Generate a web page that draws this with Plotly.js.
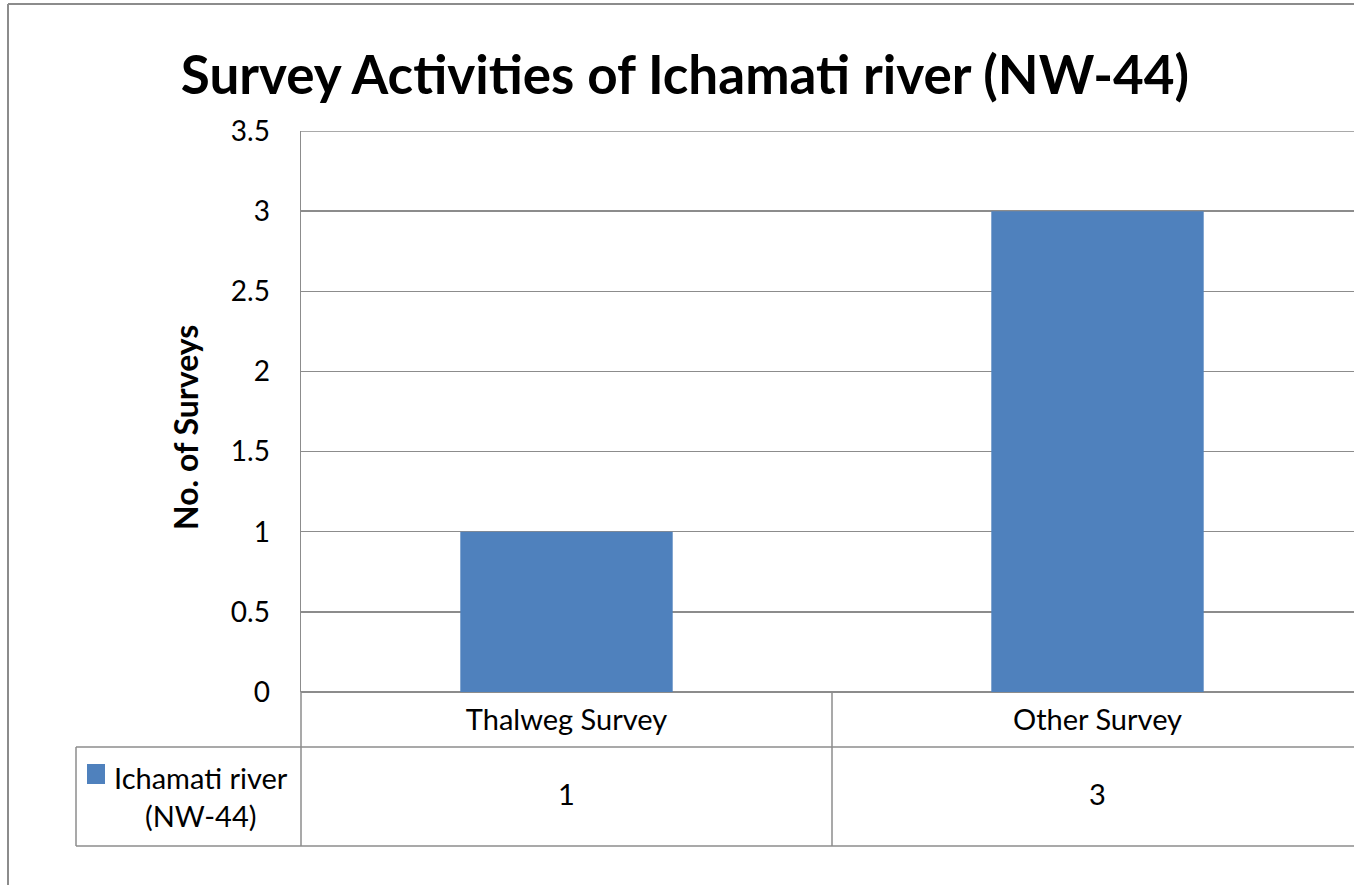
<!DOCTYPE html>
<html>
<head>
<meta charset="utf-8">
<script src="https://cdn.plot.ly/plotly-3.0.1.min.js"></script>
<style>
  html, body { margin: 0; padding: 0; background: #ffffff; overflow: hidden; }
  #chart { width: 1354px; height: 885px; }
</style>
</head>
<body>
<div id="chart"></div>
<script>
// ---- Data ----
const chartTitle = "Survey Activities of Ichamati river (NW-44)";
const yAxisTitle = "No. of Surveys";
const categories = ["Thalweg Survey", "Other Survey"];
const seriesName = "Ichamati river (NW-44)";
const seriesValues = [1, 3];
const yTickValues = [0, 0.5, 1, 1.5, 2, 2.5, 3, 3.5];
const yTickLabels = ["0", "0.5", "1", "1.5", "2", "2.5", "3", "3.5"];

// ---- Layout geometry (pixels) ----
const W = 1354, H = 885;
const plotL = 301, plotR = 1354, plotT = 131, plotB = 692;
const pw = plotR - plotL, ph = plotB - plotT;
const px = x => (x - plotL) / pw;           // pixel x -> paper x
const py = y => (plotB - y) / ph;           // pixel y -> paper y

const FONT = "Lato, 'Open Sans', sans-serif";
const gridColor = "#8c8c8c";
const barColor = "#4F81BD";
const yMax = yTickValues[yTickValues.length - 1];

const trace = {
  type: "bar",
  x: categories,
  y: seriesValues,
  name: seriesName,
  marker: { color: barColor },
  showlegend: false,
  hoverinfo: "x+y"
};

// series label in table (split name onto two lines)
const nameParts = seriesName.split(" (");
const legendText = nameParts[0] + '<br>(' + nameParts[1];

const lineStyle = { color: gridColor, width: 1.5 };
const shapes = [
  // outer chart frame (left and top)
  { type: "line", xref: "paper", yref: "paper", x0: px(8), x1: px(8), y0: py(4), y1: py(885), line: { color: gridColor, width: 2 } },
  { type: "line", xref: "paper", yref: "paper", x0: px(8), x1: px(1354), y0: py(4), y1: py(4), line: { color: gridColor, width: 2 } },
  // top gridline of plot area
  { type: "line", xref: "paper", yref: "y", x0: 0, x1: 1, y0: yMax, y1: yMax, line: lineStyle },
  // data table
  { type: "line", xref: "paper", yref: "paper", x0: px(76), x1: 1, y0: py(747), y1: py(747), line: lineStyle },
  { type: "line", xref: "paper", yref: "paper", x0: px(76), x1: 1, y0: py(846), y1: py(846), line: lineStyle },
  { type: "line", xref: "paper", yref: "paper", x0: px(76), x1: px(76), y0: py(747), y1: py(846), line: lineStyle },
  { type: "line", xref: "paper", yref: "paper", x0: 0, x1: 0, y0: 0, y1: py(846), line: lineStyle },
  { type: "line", xref: "x", yref: "paper", x0: 0.5, x1: 0.5, y0: 0, y1: py(846), line: lineStyle },
  // legend key swatch
  { type: "rect", xref: "paper", yref: "paper", x0: px(87), x1: px(105), y0: py(764), y1: py(784), line: { width: 0 }, fillcolor: barColor }
];

const annotations = [];
categories.forEach((c, i) => {
  annotations.push({
    x: c, xref: "x", y: py(793), yref: "paper",
    text: String(seriesValues[i]), showarrow: false,
    font: { family: FONT, size: 29, color: "#000" },
    xanchor: "center", yanchor: "middle"
  });
});
annotations.push({
  x: px(201), xref: "paper", y: py(796), yref: "paper",
  text: legendText, showarrow: false, align: "center",
  font: { family: FONT, size: 29, color: "#000" },
  xanchor: "center", yanchor: "middle"
});
annotations.push({
  x: px(185), xref: "paper", y: py(428), yref: "paper",
  text: "<b>" + yAxisTitle + "</b>", showarrow: false, textangle: -90,
  font: { family: FONT, size: 32, color: "#000" },
  xanchor: "center", yanchor: "middle"
});

const layout = {
  width: W, height: H,
  paper_bgcolor: "#ffffff", plot_bgcolor: "#ffffff",
  margin: { l: plotL, r: W - plotR, t: plotT, b: H - plotB, pad: 0 },
  title: {
    text: "<b>" + chartTitle + "</b>",
    x: 685 / W, xref: "container", xanchor: "center",
    y: 1 - 75 / H, yref: "container", yanchor: "middle",
    font: { family: FONT, size: 53, color: "#000" }
  },
  bargap: 0.6,
  xaxis: {
    type: "category",
    range: [-0.5, -0.5 + 2 * pw / 1062],
    showgrid: false, showline: false, zeroline: false, ticks: "",
    tickfont: { family: FONT, size: 29, color: "#000" },
    ticklabelstandoff: 8,
    fixedrange: true
  },
  yaxis: {
    range: [0, yMax],
    tickmode: "array", tickvals: yTickValues, ticktext: yTickLabels,
    showgrid: true, gridcolor: gridColor, gridwidth: 1.5,
    showline: true, linecolor: gridColor, linewidth: 1.5,
    zeroline: true, zerolinecolor: gridColor, zerolinewidth: 1.5,
    ticks: "", ticklabelstandoff: 24,
    tickfont: { family: FONT, size: 28, color: "#000" },
    fixedrange: true
  },
  shapes: shapes,
  annotations: annotations
};

Plotly.newPlot("chart", [trace], layout, { displayModeBar: false, staticPlot: true });
</script>
</body>
</html>
